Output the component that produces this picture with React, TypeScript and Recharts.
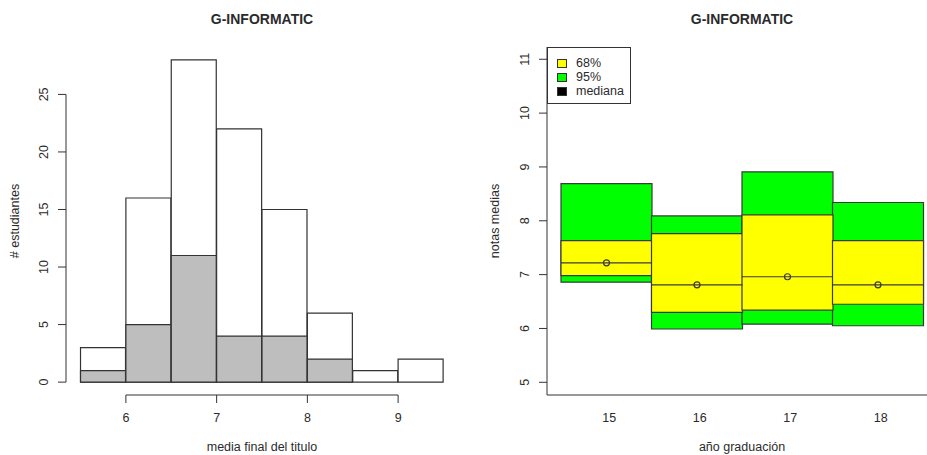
import React from 'react';
import { ComposedChart, Bar, XAxis, YAxis, ReferenceLine } from 'recharts';

const FONT = '"Liberation Sans", Arial, sans-serif';
const INK = '#2b2b2b';

// left: histogram of final grade (bins of width 0.5, given by their centre)
const binCentres = [5.75, 6.25, 6.75, 7.25, 7.75, 8.25, 8.75, 9.25];
const totalStudents = [3, 16, 28, 22, 15, 6, 1, 2];
const subsetStudents = [1, 5, 11, 4, 4, 2, 0, 0];
const gradeTicks = [6, 7, 8, 9];
const countTicks = [0, 5, 10, 15, 20, 25];

// right: ranges per graduation year
const years = ['15', '16', '17', '18'];
const low95 = [6.86, 5.99, 6.08, 6.05];
const high95 = [8.69, 8.09, 8.91, 8.34];
const low68 = [6.98, 6.3, 6.34, 6.45];
const high68 = [7.63, 7.76, 8.11, 7.63];
const medians = [7.22, 6.81, 6.96, 6.81];
const notaTicks = [5, 6, 7, 8, 9, 10, 11];

const legendLabels = ['68%', '95%', 'mediana'];
const legendColors = ['#ffff00', '#00ff00', '#000000'];

const histData = binCentres.map((mid, i) => ({
  mid,
  total: totalStudents[i],
  subset: subsetStudents[i],
}));

const rangeData = years.map((year, i) => ({
  year,
  r95: [low95[i], high95[i]],
  r68: [low68[i], high68[i]],
  med: [medians[i], medians[i]],
}));

const VerticalTick = (props: any) => {
  const { x, y, payload } = props;
  return (
    <text
      x={0}
      y={0}
      transform={`translate(${x - 14.5},${y}) rotate(-90)`}
      textAnchor="middle"
      dominantBaseline="central"
      fontSize={12.5}
      fontFamily={FONT}
      fill={INK}
    >
      {payload.value}
    </text>
  );
};

const makeBottomTick = (dx: number) => (props: any) => {
  const { x, y, payload } = props;
  return (
    <text
      x={x + dx}
      y={y + 14.5}
      textAnchor="middle"
      dominantBaseline="central"
      fontSize={12.5}
      fontFamily={FONT}
      fill={INK}
    >
      {payload.value}
    </text>
  );
};

const MedianMark = (props: any) => {
  const { x, y, width } = props;
  return (
    <g>
      <line x1={x} x2={x + width} y1={y} y2={y} stroke="#3a3a3a" strokeWidth={1.2} />
      <circle cx={x + width / 2} cy={y} r={3} fill="none" stroke="#3a3a3a" strokeWidth={1.2} />
    </g>
  );
};

const centered = (left: number, top: number, extra: React.CSSProperties = {}): React.CSSProperties => ({
  position: 'absolute',
  left,
  top,
  transform: 'translate(-50%, -50%)',
  whiteSpace: 'nowrap',
  color: INK,
  fontFamily: FONT,
  fontSize: 12.5,
  lineHeight: 1,
  ...extra,
});

const Histogram = () => (
  <ComposedChart
    width={470}
    height={455}
    data={histData}
    margin={{ top: 47, right: 12, bottom: 0, left: 0 }}
    barCategoryGap={0}
    barGap={0}
  >
    <XAxis
      dataKey="mid"
      type="number"
      domain={[5.34, 9.66]}
      allowDataOverflow
      ticks={gradeTicks}
      height={60}
      axisLine={false}
      stroke="#333"
      tickSize={8}
      tickMargin={0}
      tick={makeBottomTick(0)}
    />
    <XAxis xAxisId="sub" dataKey="mid" type="number" domain={[5.34, 9.66]} allowDataOverflow hide />
    <YAxis
      type="number"
      domain={[-1.12, 29.12]}
      allowDataOverflow
      ticks={countTicks}
      width={66}
      axisLine={false}
      stroke="#333"
      tickSize={8}
      tickMargin={0}
      tick={<VerticalTick />}
    />
    <Bar dataKey="total" fill="#ffffff" stroke="#333" strokeWidth={1.2} isAnimationActive={false} />
    <Bar dataKey="subset" xAxisId="sub" fill="#bebebe" stroke="#333" strokeWidth={1.2} isAnimationActive={false} />
    <ReferenceLine
      segment={[{ x: 5.34, y: countTicks[0] }, { x: 5.34, y: countTicks[countTicks.length - 1] }]}
      stroke="#333"
      ifOverflow="visible"
    />
    <ReferenceLine
      segment={[{ x: gradeTicks[0], y: -1.12 }, { x: gradeTicks[gradeTicks.length - 1], y: -1.12 }]}
      stroke="#333"
      ifOverflow="visible"
    />
  </ComposedChart>
);

const RangeChart = () => (
  <ComposedChart
    width={480}
    height={455}
    data={rangeData}
    margin={{ top: 47, right: 13, bottom: 0, left: 0 }}
    barCategoryGap={0}
    barGap={0}
  >
    <XAxis
      dataKey="year"
      type="category"
      padding={{ left: 14, right: 14 }}
      height={60}
      stroke="#333"
      tickLine={false}
      tickSize={8}
      tickMargin={0}
      tick={makeBottomTick(3)}
    />
    <XAxis xAxisId="y68" dataKey="year" type="category" hide padding={{ left: 14, right: 14 }} />
    <XAxis xAxisId="med" dataKey="year" type="category" hide padding={{ left: 14, right: 14 }} />
    <XAxis xAxisId="top" orientation="top" height={0} tick={false} tickLine={false} stroke="#333" />
    <YAxis
      type="number"
      domain={[4.764, 11.228]}
      allowDataOverflow
      ticks={notaTicks}
      width={77}
      stroke="#333"
      tickSize={8}
      tickMargin={0}
      tick={<VerticalTick />}
    />
    <Bar dataKey="r95" fill="#00ff00" stroke="#3a3a3a" strokeWidth={1.2} isAnimationActive={false} />
    <Bar dataKey="r68" xAxisId="y68" fill="#ffff00" stroke="#3a3a3a" strokeWidth={1.2} isAnimationActive={false} />
    <Bar dataKey="med" xAxisId="med" shape={<MedianMark />} isAnimationActive={false} />
  </ComposedChart>
);

export default function App() {
  return (
    <div
      style={{
        position: 'absolute',
        left: 0,
        top: 0,
        width: 927,
        height: 455,
        overflow: 'hidden',
        background: '#fff',
        fontFamily: FONT,
      }}
    >
      <div style={{ position: 'absolute', left: 0, top: 0 }}>
        <Histogram />
      </div>
      <div style={{ position: 'absolute', left: 470, top: 0 }}>
        <RangeChart />
      </div>

      <div style={centered(262, 19, { fontWeight: 'bold', fontSize: 14 })}>G-INFORMATIC</div>
      <div style={centered(742, 19, { fontWeight: 'bold', fontSize: 14 })}>G-INFORMATIC</div>
      <div style={centered(262, 447)}>media final del titulo</div>
      <div style={centered(742, 447)}>año graduación</div>
      <div style={centered(15, 221, { transform: 'translate(-50%, -50%) rotate(-90deg)' })}># estudiantes</div>
      <div style={centered(495, 221, { transform: 'translate(-50%, -50%) rotate(-90deg)' })}>notas medias</div>

      <div
        style={{
          position: 'absolute',
          left: 547,
          top: 47,
          width: 84,
          height: 57,
          boxSizing: 'border-box',
          border: '1px solid #333',
          background: '#fff',
        }}
      >
        {legendLabels.map((label, i) => (
          <div key={label} style={{ position: 'absolute', left: 0, top: 8 + i * 14, height: 14, width: 82 }}>
            <div
              style={{
                position: 'absolute',
                left: 9,
                top: 2.5,
                width: 10,
                height: 9,
                boxSizing: 'border-box',
                background: legendColors[i],
                border: '1px solid #333',
              }}
            />
            <div
              style={{
                position: 'absolute',
                left: 28,
                top: 0,
                lineHeight: '14px',
                fontSize: 12.5,
                fontFamily: FONT,
                color: INK,
              }}
            >
              {label}
            </div>
          </div>
        ))}
      </div>
    </div>
  );
}
